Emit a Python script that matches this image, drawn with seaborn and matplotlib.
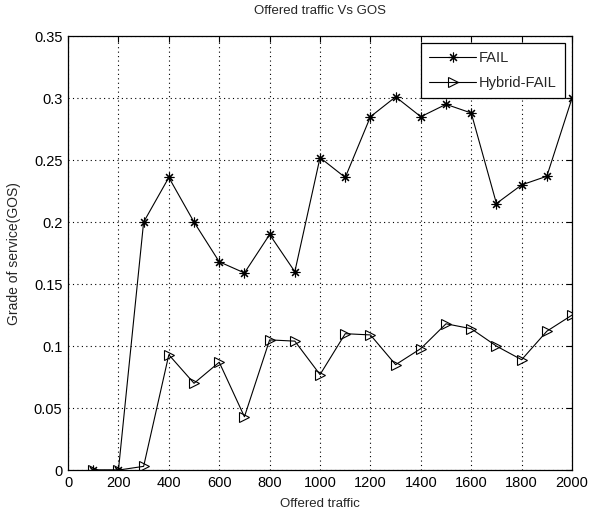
import matplotlib
matplotlib.use("Agg")
import matplotlib.pyplot as plt
import pandas as pd
import seaborn as sns

traffic = [100, 200, 300, 400, 500, 600, 700, 800, 900, 1000,
           1100, 1200, 1300, 1400, 1500, 1600, 1700, 1800, 1900, 2000]
fail = [0.0, 0.0, 0.2, 0.236, 0.2, 0.168, 0.159, 0.19, 0.16, 0.252,
        0.236, 0.285, 0.301, 0.285, 0.295, 0.288, 0.215, 0.23, 0.237, 0.3]
hybrid = [0.0, 0.0, 0.003, 0.093, 0.07, 0.087, 0.043, 0.105, 0.104, 0.077,
          0.11, 0.109, 0.085, 0.098, 0.118, 0.114, 0.1, 0.089, 0.112, 0.125]

df_fail = pd.DataFrame({"traffic": traffic, "gos": fail})
df_hybrid = pd.DataFrame({"traffic": traffic, "gos": hybrid})

sns.set_style("white")
plt.rcParams["font.family"] = ["Liberation Sans", "DejaVu Sans"]
fig = plt.figure(figsize=(5.89, 5.16), dpi=100)
ax = fig.add_axes([0.1155, 0.089, 0.8557, 0.841])

sns.lineplot(data=df_fail, x="traffic", y="gos", color="black", label="FAIL",
             marker=(8, 2, 0), markersize=7, linewidth=0.8,
             markeredgecolor="black", markeredgewidth=0.8, ax=ax)
sns.lineplot(data=df_hybrid, x="traffic", y="gos", color="black", label="Hybrid-FAIL",
             marker=">", markersize=7, linewidth=0.8, markerfacecolor="none",
             markeredgecolor="black", markeredgewidth=0.8, ax=ax)

ax.set_xlim(0, 2000)
ax.set_ylim(0, 0.35)
ax.set_xticks(range(0, 2001, 200))
ax.set_yticks([0, 0.05, 0.1, 0.15, 0.2, 0.25, 0.3, 0.35])
ax.set_yticklabels(["0", "0.05", "0.1", "0.15", "0.2", "0.25", "0.3", "0.35"])
ax.tick_params(direction="in", length=4, labelsize=10.5, colors="black", pad=4)
ax.tick_params(top=True, right=True, labeltop=False, labelright=False)
ax.grid(True, linestyle=(0, (1, 3)), color="black", linewidth=0.8)
for s in ax.spines.values():
    s.set_color("black")
    s.set_linewidth(0.9)

ax.set_xlabel("Offered traffic", fontsize=9.5, labelpad=6)
ax.set_ylabel("Grade of service(GOS)", fontsize=10, labelpad=9)
ax.set_title("Offered traffic Vs GOS", fontsize=9.5, pad=16)

leg = ax.legend(loc="upper right", fontsize=10.5, fancybox=False, framealpha=1,
                edgecolor="black", borderaxespad=0.5, handlelength=3.2,
                labelspacing=0.75, borderpad=0.55, handletextpad=0.2)
leg.get_frame().set_linewidth(0.9)

fig.savefig("out.png", dpi=100)
